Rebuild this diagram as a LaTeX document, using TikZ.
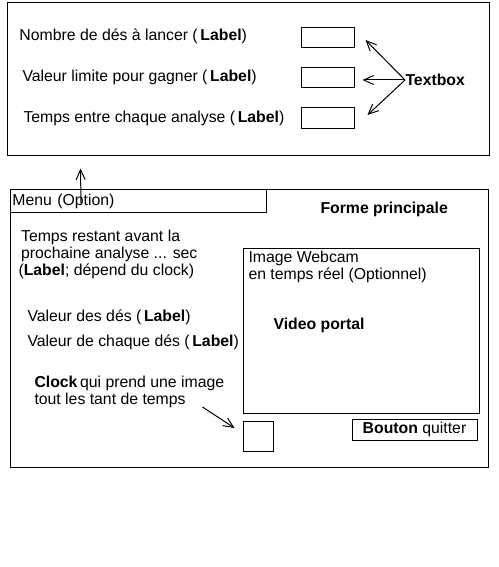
\documentclass[tikz,border=0pt]{standalone}
\usepackage{fontspec}
\setmainfont{Liberation Sans}
\usetikzlibrary{arrows.meta}

\begin{document}
\begin{tikzpicture}[x=1pt,y=-1pt,line width=1pt,
    >={Straight Barb[length=10pt,width=9pt]},
    every node/.style={font=\fontsize{15.8}{17}\selectfont},
    txt/.style={anchor=west,inner sep=0pt},
    frame/.style={draw,inner sep=0pt},
    tbox/.style={draw,inner sep=0pt,minimum width=53pt,minimum height=20pt}]

      \useasboundingbox (0,0) rectangle (498,567);

      % fenetre des options (en haut)
      \node[frame,minimum width=482pt,minimum height=152pt] (opt) at (248,79) {};
      \node[txt] (lblNb) at (19,36) {Nombre de dés à lancer (\,\textbf{Label})};
      \node[txt] (lblVal) at (22,77) {Valeur limite pour gagner (\,\textbf{Label})};
      \node[txt] (lblTemps) at (23,118) {Temps entre chaque analyse (\,\textbf{Label})};
      \node[tbox] (tb1) at (327.5,38) {};
      \node[tbox] (tb2) at (327.5,77.5) {};
      \node[tbox] (tb3) at (327.5,118) {};
      \node[txt] (txtbox) at (405,80) {\textbf{Textbox}};
      \draw[->] (txtbox.west) -- ([shift={(11,2)}]tb1.east);
      \draw[->] (txtbox.west) -- ([shift={(8,2.5)}]tb2.east);
      \draw[->] (txtbox.west) -- ([shift={(13,-3)}]tb3.east);

      % forme principale
      \node[frame,minimum width=478pt,minimum height=278pt] (main) at (249,328) {};
      \node[draw,anchor=north west,text width=252pt,inner xsep=2pt,inner ysep=0pt,
        minimum height=23pt,align=left] (menu) at (10,189) {Menu (Option)};
      \draw[->] ([shift={(71,14)}]menu.north west) -- ([shift={(74,13)}]opt.south west);
      \node[txt] (titre) at (320,209) {\textbf{Forme principale}};
      \node[anchor=north west,inner sep=0pt,align=left] (restant) at (18,230)
        {\,Temps restant avant la\\\,prochaine analyse ... sec\\(\textbf{Label}; dépend du clock)};
      \node[txt] (lblDes) at (27,317) {Valeur des dés (\,\textbf{Label})};
      \node[txt] (lblChaque) at (27,342) {Valeur de chaque dés (\,\textbf{Label})};

      % webcam
      \node[frame,minimum width=236pt,minimum height=165pt] (cam) at (361,330.5) {};
      \node[anchor=north west,inner sep=0pt,align=left] (camtxt) at (248,251)
        {Image Webcam\\en temps réel (Optionnel)};
      \node[txt] (portal) at (273,325) {\textbf{Video portal}};

      % clock et bouton
      \node[anchor=north west,inner sep=0pt,align=left] (clocktxt) at (34,376)
        {\textbf{Clock}\,qui prend une image\\tout les tant de temps};
      \node[frame,minimum width=30pt,minimum height=30pt] (clk) at (258,436.5) {};
      \draw[->] ([shift={(-40,-14)}]clk.north west) -- ([shift={(-8,7)}]clk.north west);
      \node[frame,minimum width=125pt,minimum height=21pt] (quit) at (414.5,429.5)
        {\textbf{Bouton} quitter};

    \end{tikzpicture}
\end{document}
